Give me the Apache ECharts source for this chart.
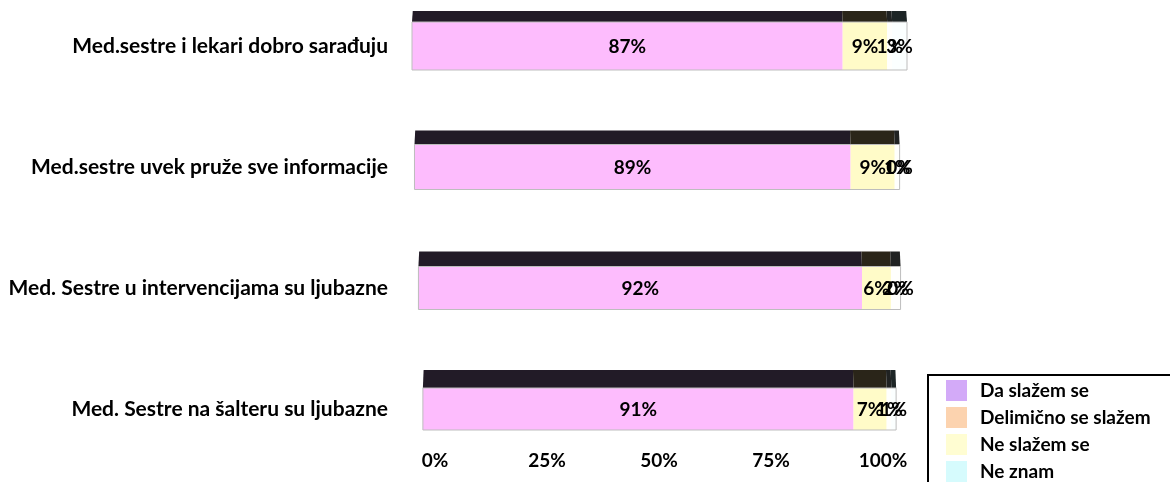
<!DOCTYPE html>
<html>
<head>
<meta charset="utf-8">
<script src="https://cdn.jsdelivr.net/npm/echarts@6.0.0/dist/echarts.min.js"></script>
<style>
  html, body { margin: 0; padding: 0; background: #ffffff; }
  #chart { width: 1170px; height: 482px; }
</style>
</head>
<body>
<div id="chart"></div>
<script>
// Survey answers per statement, in percent
const categories = [
  'Med.sestre i lekari dobro sarađuju',
  'Med.sestre uvek pruže sve informacije',
  'Med. Sestre u intervencijama su ljubazne',
  'Med. Sestre na šalteru su ljubazne'
];
const seriesNames = ['Da slažem se', 'Delimično se slažem', 'Ne slažem se', 'Ne znam'];
const daSlazemSe = [87, 89, 92, 91];
const delimicnoSeSlazem = [9, 9, 6, 7];
const neSlazemSe = [1, 1, 2, 1];
const neZnam = [3, 0, 0, 1];
const axisTicks = [0, 25, 50, 75, 100];

const seriesValues = [daSlazemSe, delimicnoSeSlazem, neSlazemSe, neZnam];

// Colours: legend swatches, lit front faces and shaded top faces
const legendColors = ['#d3aaf8', '#fcd3af', '#fffdd2', '#d6fbfd'];
const frontColors = ['#fdbcfd', '#fffbc8', '#fffffd', '#fbffff'];
const topColors = ['#221b27', '#2a2519', '#202222', '#1d2526'];

// Pseudo-3D look: rows further down are drawn a little narrower, with a deeper top face
const rowScale = [1, 0.99, 0.974, 0.956];
const frontHeight = [48, 45, 43, 42];
const topDepth = [11, 14, 15, 18];

const FONT = 'Lato';

// stacked start/end for each segment
const stacked = seriesValues.map(() => []);
categories.forEach((c, r) => {
  let acc = 0;
  seriesValues.forEach((vals, s) => {
    stacked[s].push([r, acc, acc + vals[r], vals[r]]);
    acc += vals[r];
  });
});

function renderSegment(params, api) {
  const s = params.seriesIndex;
  const row = api.value(0);
  const start = api.value(1);
  const end = api.value(2);
  const val = api.value(3);
  const k = rowScale[row];
  const mid = api.coord([50, row])[0];
  const pa = api.coord([start, row]);
  const pb = api.coord([end, row]);
  const x0 = mid + (pa[0] - mid) * k;
  const x1 = mid + (pb[0] - mid) * k;
  const cy = pa[1];
  const hf = frontHeight[row] / 2;
  const ht = topDepth[row];
  const kb = 0.997;
  const bx0 = mid + (x0 - mid) * kb;
  const bx1 = mid + (x1 - mid) * kb;
  const children = [];
  if (x1 - x0 > 0.01) {
    children.push({
      type: 'polygon',
      shape: { points: [[x0, cy - hf], [x1, cy - hf], [bx1, cy - hf - ht], [bx0, cy - hf - ht]] },
      style: { fill: topColors[s] }
    });
    children.push({
      type: 'rect',
      shape: { x: x0, y: cy - hf, width: x1 - x0, height: hf * 2 },
      style: { fill: frontColors[s] }
    });
  }
  if (s === seriesValues.length - 1) {
    // outline round the whole front face
    const ps = api.coord([0, row]);
    const fx0 = mid + (ps[0] - mid) * k;
    children.push({
      type: 'rect',
      shape: { x: fx0, y: cy - hf, width: x1 - fx0, height: hf * 2 },
      style: { fill: null, stroke: '#bdbdbd', lineWidth: 1 }
    });
  }
  children.push({
    type: 'text',
    z2: 10,
    style: {
      x: (x0 + x1) / 2,
      y: cy + 1,
      text: val + '%',
      align: 'center',
      verticalAlign: 'middle',
      fill: '#000',
      font: 'bold 19px ' + FONT
    }
  });
  return { type: 'group', children: children };
}

const chart = echarts.init(document.getElementById('chart'), null, { renderer: 'canvas' });

chart.setOption({
  backgroundColor: '#ffffff',
  animation: false,
  legend: {
    data: seriesNames,
    orient: 'vertical',
    left: 928,
    top: 375,
    height: 300,
    padding: [5, 220, 40, 18],
    itemWidth: 21,
    itemHeight: 21,
    itemGap: 6,
    icon: 'rect',
    borderColor: '#000',
    borderWidth: 2,
    textStyle: { fontFamily: FONT, fontWeight: 'bold', fontSize: 19, color: '#000', padding: [0, 0, 0, 8] }
  },
  grid: [
    { left: 412, right: 263, top: 46, bottom: 73 },
    { left: 435, right: 287, top: 440, height: 2 }
  ],
  xAxis: [
    { type: 'value', gridIndex: 0, min: 0, max: 100, show: false },
    {
      type: 'value', gridIndex: 1, min: axisTicks[0], max: axisTicks[axisTicks.length - 1], interval: 25,
      axisLine: { show: false }, axisTick: { show: false }, splitLine: { show: false },
      axisLabel: { formatter: '{value}%', margin: 9, color: '#000', fontFamily: FONT, fontWeight: 'bold', fontSize: 19 }
    }
  ],
  yAxis: [
    {
      type: 'category', gridIndex: 0, data: categories, inverse: true, boundaryGap: false,
      axisLine: { show: false }, axisTick: { show: false }, splitLine: { show: false },
      axisLabel: { margin: 24, color: '#000', fontFamily: FONT, fontWeight: 'bold', fontSize: 21 }
    },
    { type: 'value', gridIndex: 1, show: false }
  ],
  series: seriesNames.map((name, s) => ({
    name: name,
    type: 'custom',
    xAxisIndex: 0,
    yAxisIndex: 0,
    clip: false,
    itemStyle: { color: legendColors[s] },
    renderItem: renderSegment,
    encode: { x: [1, 2], y: 0 },
    data: stacked[s]
  }))
});
</script>
</body>
</html>
